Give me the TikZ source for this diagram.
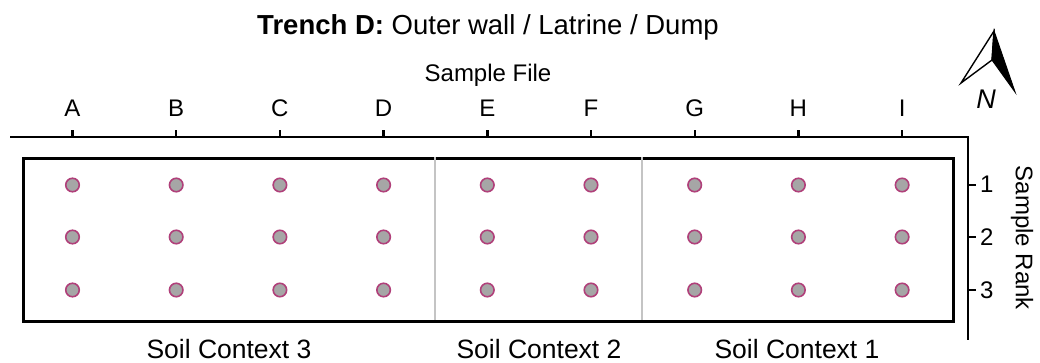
\documentclass[tikz,border=0pt]{standalone}
\usepackage{fontspec}
\setmainfont{Liberation Sans}
\definecolor{dotfill}{HTML}{A6A6A6}
\definecolor{dotedge}{HTML}{B0407A}
\definecolor{divgray}{HTML}{C4C4C4}
\begin{document}
\begin{tikzpicture}[x=1pt,y=-1pt,
  sdot/.style={circle,draw=dotedge,fill=dotfill,line width=1.6pt,minimum size=13.5pt,inner sep=0pt},
  lbl/.style={font=\fontsize{24}{28}\selectfont,inner sep=0pt,anchor=base},
  axisline/.style={line width=2.6pt,line cap=rect},
  tickline/.style={line width=2.4pt}]
\useasboundingbox (0,0) rectangle (1040,363);
% title
\node[lbl,font=\fontsize{27.5}{30}\selectfont] (title) at (488,35) {\textbf{Trench D:} Outer wall / Latrine / Dump};
\node[lbl] (sfile) at (488,82) {Sample File};
% axes
\coordinate (axL) at (10,137);
\coordinate (axC) at (968,137);
\coordinate (axB) at (968,340);
\draw[axisline,line cap=butt] (axL) -- (axC) -- (axB);
% column ticks and labels
\foreach \c [count=\i from 0] in {A,B,C,D,E,F,G,H,I}{
  \pgfmathsetmacro{\xx}{72.5+103.7*\i}
  \coordinate (t\c) at (\xx,137);
  \coordinate (tt\c) at (\xx,130);
  \draw[tickline] (t\c) -- (tt\c);
  \node[lbl] (L\c) at (\xx,117) {\c};
}
% box
\node[draw,line width=3pt,minimum width=930pt,minimum height=163pt,inner sep=0pt,anchor=north west] (box) at (22,157) {};
% dividers
\coordinate (v1t) at (435,157); \coordinate (v1b) at (435,320);
\coordinate (v2t) at (642,157); \coordinate (v2b) at (642,320);
\draw[divgray,line width=1.8pt] (v1t) -- (v1b);
\draw[divgray,line width=1.8pt] (v2t) -- (v2b);
% dots and row ticks
\foreach \r/\yy in {1/185,2/237,3/290}{
  \foreach \c [count=\i from 0] in {A,B,C,D,E,F,G,H,I}{
    \pgfmathsetmacro{\xx}{72.5+103.7*\i}
    \node[sdot] (d\r\c) at (\xx,\yy) {};
  }
  \coordinate (r\r) at (968,\yy);
  \coordinate (rr\r) at (976,\yy);
  \draw[tickline] (r\r) -- (rr\r);
  \node[lbl,anchor=base west] (n\r) at (980,\yy+8) {\r};
}
\node[lbl,anchor=center,rotate=-90] (srank) at (1022,238) {Sample Rank};
% soil contexts
\node[lbl,font=\fontsize{26.5}{30}\selectfont] (sc3) at (229,358) {Soil Context 3};
\node[lbl,font=\fontsize{26.5}{30}\selectfont] (sc2) at (539,358) {Soil Context 2};
\node[lbl,font=\fontsize{26.5}{30}\selectfont] (sc1) at (797,358) {Soil Context 1};
% north arrow
\coordinate (ntip) at (994,31);
\coordinate (nleft) at (961,83);
\coordinate (nnotch) at (992,60);
\coordinate (nright) at (1015,92);
\draw[line width=1.4pt,line join=miter,fill=white] (ntip) -- (nleft) -- (nnotch) -- cycle;
\draw[line width=1pt,fill=black,line join=miter] (ntip) -- (nnotch) -- (nright) -- cycle;
\node[font=\fontsize{27}{30}\selectfont\itshape,inner sep=0pt] (N) at (986,99) {N};
\end{tikzpicture}
\end{document}
